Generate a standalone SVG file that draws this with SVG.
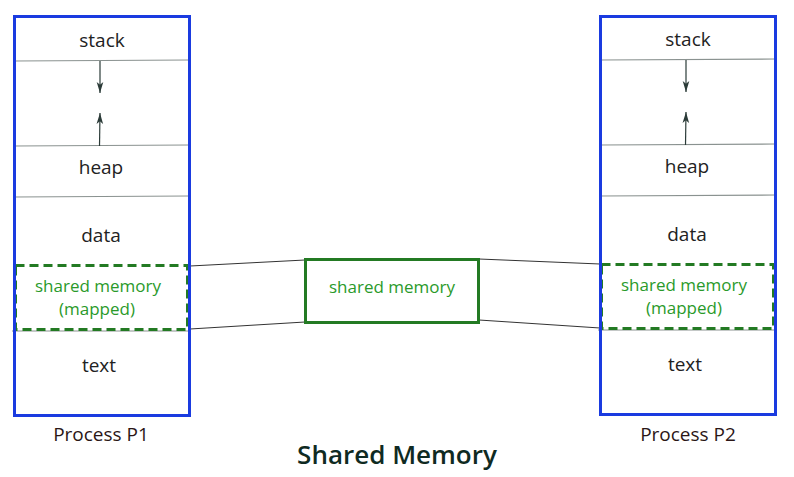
<svg xmlns="http://www.w3.org/2000/svg" width="794" height="477" viewBox="0 0 794 477">
<defs>
<style>
.proc{fill:none;stroke:#1a3be0;stroke-width:3}
.div{stroke:#8a9290;stroke-width:1.2;fill:none}
.lbl{font-family:"Open Sans","Noto Sans",sans-serif;font-size:19px;fill:#222;text-anchor:middle}
.glbl{font-family:"Open Sans","Noto Sans",sans-serif;font-size:17px;fill:#2a9a2a;text-anchor:middle}
.dash{fill:none;stroke:#237a23;stroke-width:3;stroke-dasharray:9 5}
.plbl{font-family:"Open Sans","Noto Sans",sans-serif;font-size:19px;fill:#2b1616;text-anchor:middle}
.conn{stroke:#333;stroke-width:1;fill:none}
.arr{stroke:#2b3b38;stroke-width:1.2;fill:none}
</style>
<marker id="ah" viewBox="0 0 10 10" refX="10" refY="5" markerWidth="11" markerHeight="11" orient="auto" markerUnits="userSpaceOnUse">
<path d="M0,2 L10,5 L0,8 L2.5,5 Z" fill="#2b3b38"/>
</marker>
</defs>
<rect width="794" height="477" fill="#fff"/>
<g id="connectors">
<line class="conn" x1="190" y1="266" x2="305" y2="260"/>
<line class="conn" x1="190" y1="329" x2="305" y2="322"/>
<line class="conn" x1="479" y1="259" x2="600" y2="264"/>
<line class="conn" x1="479" y1="320" x2="600" y2="328"/>
</g>
<g id="p1">
<line class="div" x1="14" y1="61" x2="189" y2="60"/>
<line class="div" x1="14" y1="146" x2="189" y2="145"/>
<line class="div" x1="14" y1="197" x2="189" y2="196"/>
<line class="div" x1="12" y1="331" x2="189" y2="331"/>
<line class="arr" x1="100" y1="61" x2="100" y2="93" marker-end="url(#ah)"/>
<line class="arr" x1="99.5" y1="146" x2="100" y2="113" marker-end="url(#ah)"/>
<text class="lbl" x="102" y="47">stack</text>
<text class="lbl" x="101" y="174">heap</text>
<text class="lbl" x="101" y="242">data</text>
<rect class="dash" x="15.5" y="265.5" width="172" height="64"/>
<text class="glbl" x="98" y="292">shared memory</text>
<text class="glbl" x="97" y="315">(mapped)</text>
<text class="lbl" x="99" y="372">text</text>
<rect class="proc" x="14.5" y="16.5" width="175" height="399"/>
<text class="plbl" x="101" y="441">Process P1</text>
</g>
<g id="shared">
<rect x="305.5" y="259.5" width="173" height="63" fill="none" stroke="#237a23" stroke-width="3"/>
<text class="glbl" x="392" y="293">shared memory</text>
</g>
<g id="p2">
<line class="div" x1="600" y1="60" x2="775" y2="59"/>
<line class="div" x1="600" y1="145" x2="775" y2="144"/>
<line class="div" x1="600" y1="196" x2="775" y2="195"/>
<line class="div" x1="598" y1="330" x2="775" y2="330"/>
<line class="arr" x1="686" y1="60" x2="686" y2="92" marker-end="url(#ah)"/>
<line class="arr" x1="685.5" y1="145" x2="686" y2="112" marker-end="url(#ah)"/>
<text class="lbl" x="688" y="46">stack</text>
<text class="lbl" x="687" y="173">heap</text>
<text class="lbl" x="687" y="241">data</text>
<rect class="dash" x="601.5" y="264.5" width="172" height="64"/>
<text class="glbl" x="684" y="291">shared memory</text>
<text class="glbl" x="684" y="314">(mapped)</text>
<text class="lbl" x="685" y="371">text</text>
<rect class="proc" x="600.5" y="16.5" width="175" height="398"/>
<text class="plbl" x="688" y="441">Process P2</text>
</g>
<text id="title" x="397" y="464" font-family="'Open Sans','Noto Sans',sans-serif" font-size="26" font-weight="600" fill="#0f2a22" text-anchor="middle">Shared Memory</text>
</svg>
